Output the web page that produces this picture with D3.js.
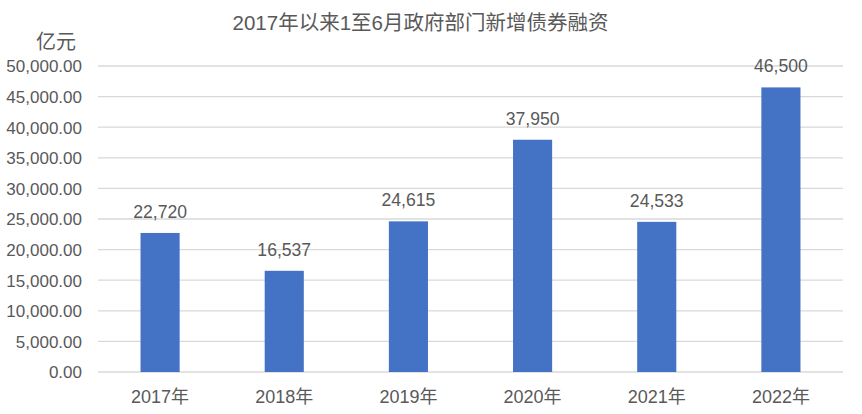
<!DOCTYPE html>
<html><head><meta charset="utf-8">
<script src="https://cdn.jsdelivr.net/npm/d3@7"></script>
<style>body{margin:0;background:#fff}text{font-family:"Liberation Sans","Noto Sans CJK SC",sans-serif;fill:#595959}</style>
</head><body><svg id="c" width="862" height="414"></svg>
<script>
const categories = ["2017年","2018年","2019年","2020年","2021年","2022年"];
const values = [22720,16537,24615,37950,24533,46500];
const yTicks = [0,5000,10000,15000,20000,25000,30000,35000,40000,45000,50000];
const title = "2017年以来1至6月政府部门新增债券融资";
const unit = "亿元";

const svg = d3.select("#c");
const x = d3.scaleBand().domain(categories).range([98,843]).paddingInner(0.685).paddingOuter(0.3425);
const y = d3.scaleLinear().domain([0,50000]).range([372,66]);

svg.append("g").selectAll("line").data(yTicks).join("line")
  .attr("x1",98).attr("x2",843).attr("y1",d=>y(d)).attr("y2",d=>y(d))
  .attr("stroke","#d9d9d9").attr("stroke-width",1.3);

const yAxis = d3.axisLeft(y).tickValues(yTicks).tickSize(0).tickPadding(0)
  .tickFormat(d=>d3.format(",.2f")(d));
const ga = svg.append("g").attr("transform","translate(82,0)").call(yAxis);
ga.select(".domain").remove();
ga.selectAll("text").style("font-size","17px").attr("fill","#595959").attr("dy","0.35em");

const xAxis = d3.axisBottom(x).tickSize(0).tickPadding(0);
const gx = svg.append("g").attr("transform","translate(0,372)").call(xAxis);
gx.select(".domain").remove();
gx.selectAll("text").style("font-size","18px").attr("fill","#595959").attr("dy","0").attr("y",31);

svg.append("g").selectAll("rect").data(values).join("rect")
  .attr("x",(d,i)=>x(categories[i])).attr("width",x.bandwidth())
  .attr("y",d=>y(d)).attr("height",d=>y(0)-y(d)).attr("fill","#4472C4");

svg.append("g").selectAll("text").data(values).join("text")
  .attr("x",(d,i)=>x(categories[i])+x.bandwidth()/2).attr("y",d=>y(d)-15)
  .attr("text-anchor","middle").style("font-size","17.6px").text(d=>d3.format(",")(d));

svg.append("text").attr("x",420.5).attr("y",30).attr("text-anchor","middle").style("font-size","20.5px").text(title);
svg.append("text").attr("x",56).attr("y",49).attr("text-anchor","middle").style("font-size","20px").text(unit);
</script></body></html>
